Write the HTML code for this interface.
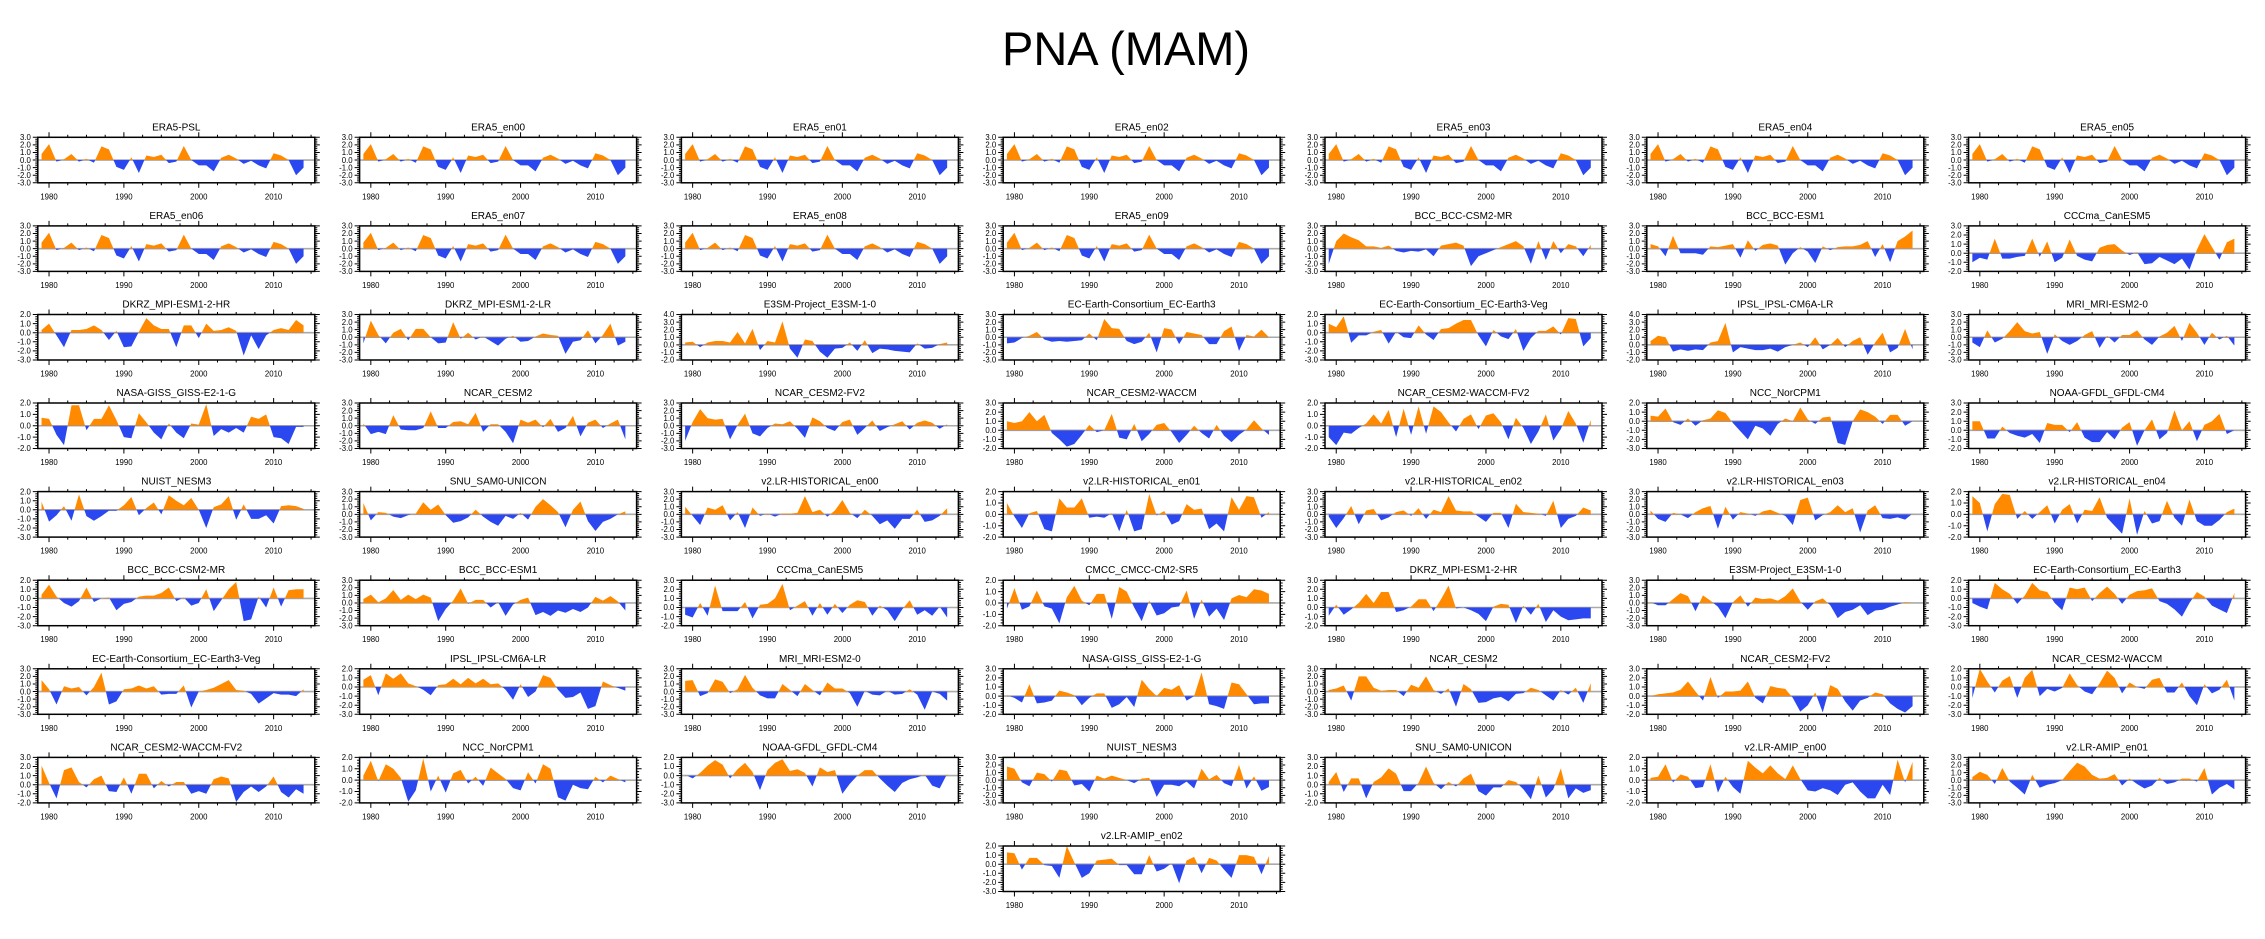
<!DOCTYPE html>
<html><head><meta charset="utf-8"><style>
html,body{margin:0;padding:0;background:#fff}
svg{display:block}
text{font-family:"Liberation Sans",Arial,sans-serif;fill:#000}
.t{font-size:10px;text-anchor:middle}
.xl{font-size:7.8px;text-anchor:middle}
.yl{font-size:7.8px;text-anchor:end}
</style></head><body>
<svg width="2265" height="939" viewBox="0 0 2265 939">
<rect width="2265" height="939" fill="#fff"/>
<text x="1126" y="65" style="font-size:47px;text-anchor:middle">PNA (MAM)</text>

<g class="pn" transform="translate(37.8,137.3)"><text class="t" x="138.5" y="-7">ERA5-PSL</text><g class="xl"><text x="11.2" y="62">1980</text><text x="86.1" y="62">1990</text><text x="161" y="62">2000</text><text x="235.8" y="62">2010</text></g><g class="yl" transform="translate(-7,2.7)"><text>3.0</text><text y="7.58">2.0</text><text y="15.17">1.0</text><text y="22.75">0.0</text><text y="30.33">-1.0</text><text y="37.92">-2.0</text><text y="45.5">-3.0</text></g></g>
<g class="pn" transform="translate(359.6,137.3)"><text class="t" x="138.5" y="-7">ERA5_en00</text><g class="xl"><text x="11.2" y="62">1980</text><text x="86.1" y="62">1990</text><text x="161" y="62">2000</text><text x="235.8" y="62">2010</text></g><g class="yl" transform="translate(-7,2.7)"><text>3.0</text><text y="7.58">2.0</text><text y="15.17">1.0</text><text y="22.75">0.0</text><text y="30.33">-1.0</text><text y="37.92">-2.0</text><text y="45.5">-3.0</text></g></g>
<g class="pn" transform="translate(681.4,137.3)"><text class="t" x="138.5" y="-7">ERA5_en01</text><g class="xl"><text x="11.2" y="62">1980</text><text x="86.1" y="62">1990</text><text x="161" y="62">2000</text><text x="235.8" y="62">2010</text></g><g class="yl" transform="translate(-7,2.7)"><text>3.0</text><text y="7.58">2.0</text><text y="15.17">1.0</text><text y="22.75">0.0</text><text y="30.33">-1.0</text><text y="37.92">-2.0</text><text y="45.5">-3.0</text></g></g>
<g class="pn" transform="translate(1003.2,137.3)"><text class="t" x="138.5" y="-7">ERA5_en02</text><g class="xl"><text x="11.2" y="62">1980</text><text x="86.1" y="62">1990</text><text x="161" y="62">2000</text><text x="235.8" y="62">2010</text></g><g class="yl" transform="translate(-7,2.7)"><text>3.0</text><text y="7.58">2.0</text><text y="15.17">1.0</text><text y="22.75">0.0</text><text y="30.33">-1.0</text><text y="37.92">-2.0</text><text y="45.5">-3.0</text></g></g>
<g class="pn" transform="translate(1325,137.3)"><text class="t" x="138.5" y="-7">ERA5_en03</text><g class="xl"><text x="11.2" y="62">1980</text><text x="86.1" y="62">1990</text><text x="161" y="62">2000</text><text x="235.8" y="62">2010</text></g><g class="yl" transform="translate(-7,2.7)"><text>3.0</text><text y="7.58">2.0</text><text y="15.17">1.0</text><text y="22.75">0.0</text><text y="30.33">-1.0</text><text y="37.92">-2.0</text><text y="45.5">-3.0</text></g></g>
<g class="pn" transform="translate(1646.8,137.3)"><text class="t" x="138.5" y="-7">ERA5_en04</text><g class="xl"><text x="11.2" y="62">1980</text><text x="86.1" y="62">1990</text><text x="161" y="62">2000</text><text x="235.8" y="62">2010</text></g><g class="yl" transform="translate(-7,2.7)"><text>3.0</text><text y="7.58">2.0</text><text y="15.17">1.0</text><text y="22.75">0.0</text><text y="30.33">-1.0</text><text y="37.92">-2.0</text><text y="45.5">-3.0</text></g></g>
<g class="pn" transform="translate(1968.6,137.3)"><text class="t" x="138.5" y="-7">ERA5_en05</text><g class="xl"><text x="11.2" y="62">1980</text><text x="86.1" y="62">1990</text><text x="161" y="62">2000</text><text x="235.8" y="62">2010</text></g><g class="yl" transform="translate(-7,2.7)"><text>3.0</text><text y="7.58">2.0</text><text y="15.17">1.0</text><text y="22.75">0.0</text><text y="30.33">-1.0</text><text y="37.92">-2.0</text><text y="45.5">-3.0</text></g></g>

<g class="pn" transform="translate(37.8,225.9)"><text class="t" x="138.5" y="-7">ERA5_en06</text><g class="xl"><text x="11.2" y="62">1980</text><text x="86.1" y="62">1990</text><text x="161" y="62">2000</text><text x="235.8" y="62">2010</text></g><g class="yl" transform="translate(-7,2.7)"><text>3.0</text><text y="7.58">2.0</text><text y="15.17">1.0</text><text y="22.75">0.0</text><text y="30.33">-1.0</text><text y="37.92">-2.0</text><text y="45.5">-3.0</text></g></g>
<g class="pn" transform="translate(359.6,225.9)"><text class="t" x="138.5" y="-7">ERA5_en07</text><g class="xl"><text x="11.2" y="62">1980</text><text x="86.1" y="62">1990</text><text x="161" y="62">2000</text><text x="235.8" y="62">2010</text></g><g class="yl" transform="translate(-7,2.7)"><text>3.0</text><text y="7.58">2.0</text><text y="15.17">1.0</text><text y="22.75">0.0</text><text y="30.33">-1.0</text><text y="37.92">-2.0</text><text y="45.5">-3.0</text></g></g>
<g class="pn" transform="translate(681.4,225.9)"><text class="t" x="138.5" y="-7">ERA5_en08</text><g class="xl"><text x="11.2" y="62">1980</text><text x="86.1" y="62">1990</text><text x="161" y="62">2000</text><text x="235.8" y="62">2010</text></g><g class="yl" transform="translate(-7,2.7)"><text>3.0</text><text y="7.58">2.0</text><text y="15.17">1.0</text><text y="22.75">0.0</text><text y="30.33">-1.0</text><text y="37.92">-2.0</text><text y="45.5">-3.0</text></g></g>
<g class="pn" transform="translate(1003.2,225.9)"><text class="t" x="138.5" y="-7">ERA5_en09</text><g class="xl"><text x="11.2" y="62">1980</text><text x="86.1" y="62">1990</text><text x="161" y="62">2000</text><text x="235.8" y="62">2010</text></g><g class="yl" transform="translate(-7,2.7)"><text>3.0</text><text y="7.58">2.0</text><text y="15.17">1.0</text><text y="22.75">0.0</text><text y="30.33">-1.0</text><text y="37.92">-2.0</text><text y="45.5">-3.0</text></g></g>
<g class="pn" transform="translate(1325,225.9)"><text class="t" x="138.5" y="-7">BCC_BCC-CSM2-MR</text><g class="xl"><text x="11.2" y="62">1980</text><text x="86.1" y="62">1990</text><text x="161" y="62">2000</text><text x="235.8" y="62">2010</text></g><g class="yl" transform="translate(-7,2.7)"><text>3.0</text><text y="7.58">2.0</text><text y="15.17">1.0</text><text y="22.75">0.0</text><text y="30.33">-1.0</text><text y="37.92">-2.0</text><text y="45.5">-3.0</text></g></g>
<g class="pn" transform="translate(1646.8,225.9)"><text class="t" x="138.5" y="-7">BCC_BCC-ESM1</text><g class="xl"><text x="11.2" y="62">1980</text><text x="86.1" y="62">1990</text><text x="161" y="62">2000</text><text x="235.8" y="62">2010</text></g><g class="yl" transform="translate(-7,2.7)"><text>3.0</text><text y="7.58">2.0</text><text y="15.17">1.0</text><text y="22.75">0.0</text><text y="30.33">-1.0</text><text y="37.92">-2.0</text><text y="45.5">-3.0</text></g></g>
<g class="pn" transform="translate(1968.6,225.9)"><text class="t" x="138.5" y="-7">CCCma_CanESM5</text><g class="xl"><text x="11.2" y="62">1980</text><text x="86.1" y="62">1990</text><text x="161" y="62">2000</text><text x="235.8" y="62">2010</text></g><g class="yl" transform="translate(-7,2.7)"><text>3.0</text><text y="9.1">2.0</text><text y="18.2">1.0</text><text y="27.3">0.0</text><text y="36.4">-1.0</text><text y="45.5">-2.0</text></g></g>

<g class="pn" transform="translate(37.8,314.5)"><text class="t" x="138.5" y="-7">DKRZ_MPI-ESM1-2-HR</text><g class="xl"><text x="11.2" y="62">1980</text><text x="86.1" y="62">1990</text><text x="161" y="62">2000</text><text x="235.8" y="62">2010</text></g><g class="yl" transform="translate(-7,2.7)"><text>2.0</text><text y="9.1">1.0</text><text y="18.2">0.0</text><text y="27.3">-1.0</text><text y="36.4">-2.0</text><text y="45.5">-3.0</text></g></g>
<g class="pn" transform="translate(359.6,314.5)"><text class="t" x="138.5" y="-7">DKRZ_MPI-ESM1-2-LR</text><g class="xl"><text x="11.2" y="62">1980</text><text x="86.1" y="62">1990</text><text x="161" y="62">2000</text><text x="235.8" y="62">2010</text></g><g class="yl" transform="translate(-7,2.7)"><text>3.0</text><text y="7.58">2.0</text><text y="15.17">1.0</text><text y="22.75">0.0</text><text y="30.33">-1.0</text><text y="37.92">-2.0</text><text y="45.5">-3.0</text></g></g>
<g class="pn" transform="translate(681.4,314.5)"><text class="t" x="138.5" y="-7">E3SM-Project_E3SM-1-0</text><g class="xl"><text x="11.2" y="62">1980</text><text x="86.1" y="62">1990</text><text x="161" y="62">2000</text><text x="235.8" y="62">2010</text></g><g class="yl" transform="translate(-7,2.7)"><text>4.0</text><text y="7.58">3.0</text><text y="15.17">2.0</text><text y="22.75">1.0</text><text y="30.33">0.0</text><text y="37.92">-1.0</text><text y="45.5">-2.0</text></g></g>
<g class="pn" transform="translate(1003.2,314.5)"><text class="t" x="138.5" y="-7">EC-Earth-Consortium_EC-Earth3</text><g class="xl"><text x="11.2" y="62">1980</text><text x="86.1" y="62">1990</text><text x="161" y="62">2000</text><text x="235.8" y="62">2010</text></g><g class="yl" transform="translate(-7,2.7)"><text>3.0</text><text y="7.58">2.0</text><text y="15.17">1.0</text><text y="22.75">0.0</text><text y="30.33">-1.0</text><text y="37.92">-2.0</text><text y="45.5">-3.0</text></g></g>
<g class="pn" transform="translate(1325,314.5)"><text class="t" x="138.5" y="-7">EC-Earth-Consortium_EC-Earth3-Veg</text><g class="xl"><text x="11.2" y="62">1980</text><text x="86.1" y="62">1990</text><text x="161" y="62">2000</text><text x="235.8" y="62">2010</text></g><g class="yl" transform="translate(-7,2.7)"><text>2.0</text><text y="9.1">1.0</text><text y="18.2">0.0</text><text y="27.3">-1.0</text><text y="36.4">-2.0</text><text y="45.5">-3.0</text></g></g>
<g class="pn" transform="translate(1646.8,314.5)"><text class="t" x="138.5" y="-7">IPSL_IPSL-CM6A-LR</text><g class="xl"><text x="11.2" y="62">1980</text><text x="86.1" y="62">1990</text><text x="161" y="62">2000</text><text x="235.8" y="62">2010</text></g><g class="yl" transform="translate(-7,2.7)"><text>4.0</text><text y="7.58">3.0</text><text y="15.17">2.0</text><text y="22.75">1.0</text><text y="30.33">0.0</text><text y="37.92">-1.0</text><text y="45.5">-2.0</text></g></g>
<g class="pn" transform="translate(1968.6,314.5)"><text class="t" x="138.5" y="-7">MRI_MRI-ESM2-0</text><g class="xl"><text x="11.2" y="62">1980</text><text x="86.1" y="62">1990</text><text x="161" y="62">2000</text><text x="235.8" y="62">2010</text></g><g class="yl" transform="translate(-7,2.7)"><text>3.0</text><text y="7.58">2.0</text><text y="15.17">1.0</text><text y="22.75">0.0</text><text y="30.33">-1.0</text><text y="37.92">-2.0</text><text y="45.5">-3.0</text></g></g>

<g class="pn" transform="translate(37.8,403)"><text class="t" x="138.5" y="-7">NASA-GISS_GISS-E2-1-G</text><g class="xl"><text x="11.2" y="62">1980</text><text x="86.1" y="62">1990</text><text x="161" y="62">2000</text><text x="235.8" y="62">2010</text></g><g class="yl" transform="translate(-7,2.7)"><text>2.0</text><text y="11.38">1.0</text><text y="22.75">0.0</text><text y="34.13">-1.0</text><text y="45.5">-2.0</text></g></g>
<g class="pn" transform="translate(359.6,403)"><text class="t" x="138.5" y="-7">NCAR_CESM2</text><g class="xl"><text x="11.2" y="62">1980</text><text x="86.1" y="62">1990</text><text x="161" y="62">2000</text><text x="235.8" y="62">2010</text></g><g class="yl" transform="translate(-7,2.7)"><text>3.0</text><text y="7.58">2.0</text><text y="15.17">1.0</text><text y="22.75">0.0</text><text y="30.33">-1.0</text><text y="37.92">-2.0</text><text y="45.5">-3.0</text></g></g>
<g class="pn" transform="translate(681.4,403)"><text class="t" x="138.5" y="-7">NCAR_CESM2-FV2</text><g class="xl"><text x="11.2" y="62">1980</text><text x="86.1" y="62">1990</text><text x="161" y="62">2000</text><text x="235.8" y="62">2010</text></g><g class="yl" transform="translate(-7,2.7)"><text>3.0</text><text y="7.58">2.0</text><text y="15.17">1.0</text><text y="22.75">0.0</text><text y="30.33">-1.0</text><text y="37.92">-2.0</text><text y="45.5">-3.0</text></g></g>
<g class="pn" transform="translate(1003.2,403)"><text class="t" x="138.5" y="-7">NCAR_CESM2-WACCM</text><g class="xl"><text x="11.2" y="62">1980</text><text x="86.1" y="62">1990</text><text x="161" y="62">2000</text><text x="235.8" y="62">2010</text></g><g class="yl" transform="translate(-7,2.7)"><text>3.0</text><text y="9.1">2.0</text><text y="18.2">1.0</text><text y="27.3">0.0</text><text y="36.4">-1.0</text><text y="45.5">-2.0</text></g></g>
<g class="pn" transform="translate(1325,403)"><text class="t" x="138.5" y="-7">NCAR_CESM2-WACCM-FV2</text><g class="xl"><text x="11.2" y="62">1980</text><text x="86.1" y="62">1990</text><text x="161" y="62">2000</text><text x="235.8" y="62">2010</text></g><g class="yl" transform="translate(-7,2.7)"><text>2.0</text><text y="11.38">1.0</text><text y="22.75">0.0</text><text y="34.13">-1.0</text><text y="45.5">-2.0</text></g></g>
<g class="pn" transform="translate(1646.8,403)"><text class="t" x="138.5" y="-7">NCC_NorCPM1</text><g class="xl"><text x="11.2" y="62">1980</text><text x="86.1" y="62">1990</text><text x="161" y="62">2000</text><text x="235.8" y="62">2010</text></g><g class="yl" transform="translate(-7,2.7)"><text>2.0</text><text y="9.1">1.0</text><text y="18.2">0.0</text><text y="27.3">-1.0</text><text y="36.4">-2.0</text><text y="45.5">-3.0</text></g></g>
<g class="pn" transform="translate(1968.6,403)"><text class="t" x="138.5" y="-7">NOAA-GFDL_GFDL-CM4</text><g class="xl"><text x="11.2" y="62">1980</text><text x="86.1" y="62">1990</text><text x="161" y="62">2000</text><text x="235.8" y="62">2010</text></g><g class="yl" transform="translate(-7,2.7)"><text>3.0</text><text y="9.1">2.0</text><text y="18.2">1.0</text><text y="27.3">0.0</text><text y="36.4">-1.0</text><text y="45.5">-2.0</text></g></g>

<g class="pn" transform="translate(37.8,491.6)"><text class="t" x="138.5" y="-7">NUIST_NESM3</text><g class="xl"><text x="11.2" y="62">1980</text><text x="86.1" y="62">1990</text><text x="161" y="62">2000</text><text x="235.8" y="62">2010</text></g><g class="yl" transform="translate(-7,2.7)"><text>2.0</text><text y="9.1">1.0</text><text y="18.2">0.0</text><text y="27.3">-1.0</text><text y="36.4">-2.0</text><text y="45.5">-3.0</text></g></g>
<g class="pn" transform="translate(359.6,491.6)"><text class="t" x="138.5" y="-7">SNU_SAM0-UNICON</text><g class="xl"><text x="11.2" y="62">1980</text><text x="86.1" y="62">1990</text><text x="161" y="62">2000</text><text x="235.8" y="62">2010</text></g><g class="yl" transform="translate(-7,2.7)"><text>3.0</text><text y="7.58">2.0</text><text y="15.17">1.0</text><text y="22.75">0.0</text><text y="30.33">-1.0</text><text y="37.92">-2.0</text><text y="45.5">-3.0</text></g></g>
<g class="pn" transform="translate(681.4,491.6)"><text class="t" x="138.5" y="-7">v2.LR-HISTORICAL_en00</text><g class="xl"><text x="11.2" y="62">1980</text><text x="86.1" y="62">1990</text><text x="161" y="62">2000</text><text x="235.8" y="62">2010</text></g><g class="yl" transform="translate(-7,2.7)"><text>3.0</text><text y="7.58">2.0</text><text y="15.17">1.0</text><text y="22.75">0.0</text><text y="30.33">-1.0</text><text y="37.92">-2.0</text><text y="45.5">-3.0</text></g></g>
<g class="pn" transform="translate(1003.2,491.6)"><text class="t" x="138.5" y="-7">v2.LR-HISTORICAL_en01</text><g class="xl"><text x="11.2" y="62">1980</text><text x="86.1" y="62">1990</text><text x="161" y="62">2000</text><text x="235.8" y="62">2010</text></g><g class="yl" transform="translate(-7,2.7)"><text>2.0</text><text y="11.38">1.0</text><text y="22.75">0.0</text><text y="34.13">-1.0</text><text y="45.5">-2.0</text></g></g>
<g class="pn" transform="translate(1325,491.6)"><text class="t" x="138.5" y="-7">v2.LR-HISTORICAL_en02</text><g class="xl"><text x="11.2" y="62">1980</text><text x="86.1" y="62">1990</text><text x="161" y="62">2000</text><text x="235.8" y="62">2010</text></g><g class="yl" transform="translate(-7,2.7)"><text>3.0</text><text y="7.58">2.0</text><text y="15.17">1.0</text><text y="22.75">0.0</text><text y="30.33">-1.0</text><text y="37.92">-2.0</text><text y="45.5">-3.0</text></g></g>
<g class="pn" transform="translate(1646.8,491.6)"><text class="t" x="138.5" y="-7">v2.LR-HISTORICAL_en03</text><g class="xl"><text x="11.2" y="62">1980</text><text x="86.1" y="62">1990</text><text x="161" y="62">2000</text><text x="235.8" y="62">2010</text></g><g class="yl" transform="translate(-7,2.7)"><text>3.0</text><text y="7.58">2.0</text><text y="15.17">1.0</text><text y="22.75">0.0</text><text y="30.33">-1.0</text><text y="37.92">-2.0</text><text y="45.5">-3.0</text></g></g>
<g class="pn" transform="translate(1968.6,491.6)"><text class="t" x="138.5" y="-7">v2.LR-HISTORICAL_en04</text><g class="xl"><text x="11.2" y="62">1980</text><text x="86.1" y="62">1990</text><text x="161" y="62">2000</text><text x="235.8" y="62">2010</text></g><g class="yl" transform="translate(-7,2.7)"><text>2.0</text><text y="11.38">1.0</text><text y="22.75">0.0</text><text y="34.13">-1.0</text><text y="45.5">-2.0</text></g></g>

<g class="pn" transform="translate(37.8,580.2)"><text class="t" x="138.5" y="-7">BCC_BCC-CSM2-MR</text><g class="xl"><text x="11.2" y="62">1980</text><text x="86.1" y="62">1990</text><text x="161" y="62">2000</text><text x="235.8" y="62">2010</text></g><g class="yl" transform="translate(-7,2.7)"><text>2.0</text><text y="9.1">1.0</text><text y="18.2">0.0</text><text y="27.3">-1.0</text><text y="36.4">-2.0</text><text y="45.5">-3.0</text></g></g>
<g class="pn" transform="translate(359.6,580.2)"><text class="t" x="138.5" y="-7">BCC_BCC-ESM1</text><g class="xl"><text x="11.2" y="62">1980</text><text x="86.1" y="62">1990</text><text x="161" y="62">2000</text><text x="235.8" y="62">2010</text></g><g class="yl" transform="translate(-7,2.7)"><text>3.0</text><text y="7.58">2.0</text><text y="15.17">1.0</text><text y="22.75">0.0</text><text y="30.33">-1.0</text><text y="37.92">-2.0</text><text y="45.5">-3.0</text></g></g>
<g class="pn" transform="translate(681.4,580.2)"><text class="t" x="138.5" y="-7">CCCma_CanESM5</text><g class="xl"><text x="11.2" y="62">1980</text><text x="86.1" y="62">1990</text><text x="161" y="62">2000</text><text x="235.8" y="62">2010</text></g><g class="yl" transform="translate(-7,2.7)"><text>3.0</text><text y="9.1">2.0</text><text y="18.2">1.0</text><text y="27.3">0.0</text><text y="36.4">-1.0</text><text y="45.5">-2.0</text></g></g>
<g class="pn" transform="translate(1003.2,580.2)"><text class="t" x="138.5" y="-7">CMCC_CMCC-CM2-SR5</text><g class="xl"><text x="11.2" y="62">1980</text><text x="86.1" y="62">1990</text><text x="161" y="62">2000</text><text x="235.8" y="62">2010</text></g><g class="yl" transform="translate(-7,2.7)"><text>2.0</text><text y="11.38">1.0</text><text y="22.75">0.0</text><text y="34.13">-1.0</text><text y="45.5">-2.0</text></g></g>
<g class="pn" transform="translate(1325,580.2)"><text class="t" x="138.5" y="-7">DKRZ_MPI-ESM1-2-HR</text><g class="xl"><text x="11.2" y="62">1980</text><text x="86.1" y="62">1990</text><text x="161" y="62">2000</text><text x="235.8" y="62">2010</text></g><g class="yl" transform="translate(-7,2.7)"><text>3.0</text><text y="9.1">2.0</text><text y="18.2">1.0</text><text y="27.3">0.0</text><text y="36.4">-1.0</text><text y="45.5">-2.0</text></g></g>
<g class="pn" transform="translate(1646.8,580.2)"><text class="t" x="138.5" y="-7">E3SM-Project_E3SM-1-0</text><g class="xl"><text x="11.2" y="62">1980</text><text x="86.1" y="62">1990</text><text x="161" y="62">2000</text><text x="235.8" y="62">2010</text></g><g class="yl" transform="translate(-7,2.7)"><text>3.0</text><text y="7.58">2.0</text><text y="15.17">1.0</text><text y="22.75">0.0</text><text y="30.33">-1.0</text><text y="37.92">-2.0</text><text y="45.5">-3.0</text></g></g>
<g class="pn" transform="translate(1968.6,580.2)"><text class="t" x="138.5" y="-7">EC-Earth-Consortium_EC-Earth3</text><g class="xl"><text x="11.2" y="62">1980</text><text x="86.1" y="62">1990</text><text x="161" y="62">2000</text><text x="235.8" y="62">2010</text></g><g class="yl" transform="translate(-7,2.7)"><text>2.0</text><text y="9.1">1.0</text><text y="18.2">0.0</text><text y="27.3">-1.0</text><text y="36.4">-2.0</text><text y="45.5">-3.0</text></g></g>

<g class="pn" transform="translate(37.8,668.8)"><text class="t" x="138.5" y="-7">EC-Earth-Consortium_EC-Earth3-Veg</text><g class="xl"><text x="11.2" y="62">1980</text><text x="86.1" y="62">1990</text><text x="161" y="62">2000</text><text x="235.8" y="62">2010</text></g><g class="yl" transform="translate(-7,2.7)"><text>3.0</text><text y="7.58">2.0</text><text y="15.17">1.0</text><text y="22.75">0.0</text><text y="30.33">-1.0</text><text y="37.92">-2.0</text><text y="45.5">-3.0</text></g></g>
<g class="pn" transform="translate(359.6,668.8)"><text class="t" x="138.5" y="-7">IPSL_IPSL-CM6A-LR</text><g class="xl"><text x="11.2" y="62">1980</text><text x="86.1" y="62">1990</text><text x="161" y="62">2000</text><text x="235.8" y="62">2010</text></g><g class="yl" transform="translate(-7,2.7)"><text>2.0</text><text y="9.1">1.0</text><text y="18.2">0.0</text><text y="27.3">-1.0</text><text y="36.4">-2.0</text><text y="45.5">-3.0</text></g></g>
<g class="pn" transform="translate(681.4,668.8)"><text class="t" x="138.5" y="-7">MRI_MRI-ESM2-0</text><g class="xl"><text x="11.2" y="62">1980</text><text x="86.1" y="62">1990</text><text x="161" y="62">2000</text><text x="235.8" y="62">2010</text></g><g class="yl" transform="translate(-7,2.7)"><text>3.0</text><text y="7.58">2.0</text><text y="15.17">1.0</text><text y="22.75">0.0</text><text y="30.33">-1.0</text><text y="37.92">-2.0</text><text y="45.5">-3.0</text></g></g>
<g class="pn" transform="translate(1003.2,668.8)"><text class="t" x="138.5" y="-7">NASA-GISS_GISS-E2-1-G</text><g class="xl"><text x="11.2" y="62">1980</text><text x="86.1" y="62">1990</text><text x="161" y="62">2000</text><text x="235.8" y="62">2010</text></g><g class="yl" transform="translate(-7,2.7)"><text>3.0</text><text y="9.1">2.0</text><text y="18.2">1.0</text><text y="27.3">0.0</text><text y="36.4">-1.0</text><text y="45.5">-2.0</text></g></g>
<g class="pn" transform="translate(1325,668.8)"><text class="t" x="138.5" y="-7">NCAR_CESM2</text><g class="xl"><text x="11.2" y="62">1980</text><text x="86.1" y="62">1990</text><text x="161" y="62">2000</text><text x="235.8" y="62">2010</text></g><g class="yl" transform="translate(-7,2.7)"><text>3.0</text><text y="7.58">2.0</text><text y="15.17">1.0</text><text y="22.75">0.0</text><text y="30.33">-1.0</text><text y="37.92">-2.0</text><text y="45.5">-3.0</text></g></g>
<g class="pn" transform="translate(1646.8,668.8)"><text class="t" x="138.5" y="-7">NCAR_CESM2-FV2</text><g class="xl"><text x="11.2" y="62">1980</text><text x="86.1" y="62">1990</text><text x="161" y="62">2000</text><text x="235.8" y="62">2010</text></g><g class="yl" transform="translate(-7,2.7)"><text>3.0</text><text y="9.1">2.0</text><text y="18.2">1.0</text><text y="27.3">0.0</text><text y="36.4">-1.0</text><text y="45.5">-2.0</text></g></g>
<g class="pn" transform="translate(1968.6,668.8)"><text class="t" x="138.5" y="-7">NCAR_CESM2-WACCM</text><g class="xl"><text x="11.2" y="62">1980</text><text x="86.1" y="62">1990</text><text x="161" y="62">2000</text><text x="235.8" y="62">2010</text></g><g class="yl" transform="translate(-7,2.7)"><text>2.0</text><text y="9.1">1.0</text><text y="18.2">0.0</text><text y="27.3">-1.0</text><text y="36.4">-2.0</text><text y="45.5">-3.0</text></g></g>

<g class="pn" transform="translate(37.8,757.4)"><text class="t" x="138.5" y="-7">NCAR_CESM2-WACCM-FV2</text><g class="xl"><text x="11.2" y="62">1980</text><text x="86.1" y="62">1990</text><text x="161" y="62">2000</text><text x="235.8" y="62">2010</text></g><g class="yl" transform="translate(-7,2.7)"><text>3.0</text><text y="9.1">2.0</text><text y="18.2">1.0</text><text y="27.3">0.0</text><text y="36.4">-1.0</text><text y="45.5">-2.0</text></g></g>
<g class="pn" transform="translate(359.6,757.4)"><text class="t" x="138.5" y="-7">NCC_NorCPM1</text><g class="xl"><text x="11.2" y="62">1980</text><text x="86.1" y="62">1990</text><text x="161" y="62">2000</text><text x="235.8" y="62">2010</text></g><g class="yl" transform="translate(-7,2.7)"><text>2.0</text><text y="11.38">1.0</text><text y="22.75">0.0</text><text y="34.13">-1.0</text><text y="45.5">-2.0</text></g></g>
<g class="pn" transform="translate(681.4,757.4)"><text class="t" x="138.5" y="-7">NOAA-GFDL_GFDL-CM4</text><g class="xl"><text x="11.2" y="62">1980</text><text x="86.1" y="62">1990</text><text x="161" y="62">2000</text><text x="235.8" y="62">2010</text></g><g class="yl" transform="translate(-7,2.7)"><text>2.0</text><text y="9.1">1.0</text><text y="18.2">0.0</text><text y="27.3">-1.0</text><text y="36.4">-2.0</text><text y="45.5">-3.0</text></g></g>
<g class="pn" transform="translate(1003.2,757.4)"><text class="t" x="138.5" y="-7">NUIST_NESM3</text><g class="xl"><text x="11.2" y="62">1980</text><text x="86.1" y="62">1990</text><text x="161" y="62">2000</text><text x="235.8" y="62">2010</text></g><g class="yl" transform="translate(-7,2.7)"><text>3.0</text><text y="7.58">2.0</text><text y="15.17">1.0</text><text y="22.75">0.0</text><text y="30.33">-1.0</text><text y="37.92">-2.0</text><text y="45.5">-3.0</text></g></g>
<g class="pn" transform="translate(1325,757.4)"><text class="t" x="138.5" y="-7">SNU_SAM0-UNICON</text><g class="xl"><text x="11.2" y="62">1980</text><text x="86.1" y="62">1990</text><text x="161" y="62">2000</text><text x="235.8" y="62">2010</text></g><g class="yl" transform="translate(-7,2.7)"><text>3.0</text><text y="9.1">2.0</text><text y="18.2">1.0</text><text y="27.3">0.0</text><text y="36.4">-1.0</text><text y="45.5">-2.0</text></g></g>
<g class="pn" transform="translate(1646.8,757.4)"><text class="t" x="138.5" y="-7">v2.LR-AMIP_en00</text><g class="xl"><text x="11.2" y="62">1980</text><text x="86.1" y="62">1990</text><text x="161" y="62">2000</text><text x="235.8" y="62">2010</text></g><g class="yl" transform="translate(-7,2.7)"><text>2.0</text><text y="11.38">1.0</text><text y="22.75">0.0</text><text y="34.13">-1.0</text><text y="45.5">-2.0</text></g></g>
<g class="pn" transform="translate(1968.6,757.4)"><text class="t" x="138.5" y="-7">v2.LR-AMIP_en01</text><g class="xl"><text x="11.2" y="62">1980</text><text x="86.1" y="62">1990</text><text x="161" y="62">2000</text><text x="235.8" y="62">2010</text></g><g class="yl" transform="translate(-7,2.7)"><text>3.0</text><text y="7.58">2.0</text><text y="15.17">1.0</text><text y="22.75">0.0</text><text y="30.33">-1.0</text><text y="37.92">-2.0</text><text y="45.5">-3.0</text></g></g>

<g class="pn" transform="translate(1003.2,846)"><text class="t" x="138.5" y="-7">v2.LR-AMIP_en02</text><g class="xl"><text x="11.2" y="62">1980</text><text x="86.1" y="62">1990</text><text x="161" y="62">2000</text><text x="235.8" y="62">2010</text></g><g class="yl" transform="translate(-7,2.7)"><text>2.0</text><text y="9.1">1.0</text><text y="18.2">0.0</text><text y="27.3">-1.0</text><text y="36.4">-2.0</text><text y="45.5">-3.0</text></g></g>
</svg>
<script>
(function(){
var E=[0.8,2.1,-0.2,0.1,0.8,-0.2,0.15,-0.35,1.8,1.4,-0.9,-1.3,0.35,-1.7,0.6,0.4,0.7,-0.4,-0.2,1.85,0.0,-0.7,-0.7,-1.5,0.3,0.7,0.2,-0.5,-0.1,-0.7,-1.1,0.9,0.6,0.0,-2.0,-1.0];
var BCCa=[-2.0,1.0,2.0,1.5,1.1,0.3,0.3,0.1,0.4,-0.3,-0.5,-0.3,-0.4,-0.1,-1.0,0.4,0.6,0.8,0.4,-2.3,-1.0,-0.6,-0.2,0.2,0.6,1.0,0.3,-2.0,1.0,-1.5,1.0,-0.6,0.6,0.3,-1.0,0.5];
var BESa=[0.6,0.3,-1.0,1.7,-0.6,-0.6,-0.6,-0.8,0.3,0.2,0.4,0.6,-1.2,1.1,-0.3,0.5,0.7,0.4,-2.1,-0.6,0.2,-0.4,-1.9,0.3,-0.2,0.2,0.3,0.3,0.5,1.0,-1.1,0.6,-1.8,1.0,1.6,2.4];
var CANa=[-1.0,-0.5,-0.7,1.6,-0.6,-0.6,-0.4,-0.3,1.6,-0.4,1.3,-1.0,-0.5,1.5,-0.3,-0.7,-0.9,0.6,0.9,1.0,0.3,-0.2,0.1,-1.2,-1.1,-0.4,-0.8,-1.2,-0.6,-1.8,0.4,2.1,0.7,-0.7,1.2,1.6];
var DHRa=[0.3,1.0,-0.3,-1.6,0.3,0.3,0.4,0.8,0.3,-0.8,0.2,-1.6,-1.5,0.1,1.6,0.8,0.4,0.4,-1.6,0.8,0.8,-0.6,1.0,0.2,0.3,0.6,0.2,-2.5,-0.3,-1.8,-0.3,0.3,0.5,0.3,1.4,0.8];
var DLR=[-0.8,2.2,0.3,-0.8,0.6,1.1,-0.4,1.1,1.1,0.0,-0.8,-0.7,2.0,-0.2,0.6,-0.3,0.1,-0.5,-1.1,-0.2,0.2,-0.6,-0.5,0.1,0.5,0.3,0.2,-2.2,-0.6,-0.4,0.9,-0.8,0.3,1.8,-1.1,-0.6];
var E3a=[0.3,0.4,-0.3,0.3,0.5,0.5,0.3,1.7,0.2,2.1,-0.7,0.5,0.3,3.1,-0.5,-1.7,0.7,0.5,-0.9,-1.7,-0.5,-0.4,0.3,-0.8,0.6,-1.1,-0.5,-0.6,-0.8,-0.9,-1.0,0.2,-0.5,-0.4,0.1,0.3];
var EC3a=[-0.8,-0.7,-0.1,0.2,0.7,-0.3,-0.6,-0.5,-0.6,-0.5,-0.4,0.5,-0.4,2.4,1.2,1.1,-0.5,-0.9,-0.6,0.6,-2.0,1.2,1.0,-0.9,0.7,0.5,0.3,-0.9,-0.9,0.8,1.4,-1.8,0.3,0.1,1.0,0.0];
var ECVa=[1.0,0.6,1.8,-1.1,-0.3,-0.3,0.1,0.3,-1.2,0.1,-0.5,-0.6,0.8,-0.2,-0.8,0.4,0.5,1.0,1.4,1.4,-0.3,-1.5,0.3,-0.4,-0.7,0.4,-2.0,-0.6,0.2,0.2,0.7,-0.2,1.6,1.5,-1.5,-0.6];
var IPa=[0.5,1.2,1.0,-0.9,-0.6,-0.8,-0.6,-0.7,0.3,0.5,2.9,-1.0,-0.3,-0.5,-0.7,-0.7,-0.5,-0.9,-0.3,0.0,0.3,-0.3,1.0,-0.6,0.0,0.9,-0.3,0.5,1.0,-1.3,0.3,1.6,-1.0,-0.4,2.1,-0.6];
var MRa=[-0.7,-1.3,0.9,-0.7,-0.2,0.8,2.0,0.8,0.5,0.7,-2.2,0.4,-0.5,-1.0,-0.5,0.3,0.8,-1.4,0.2,-0.7,0.3,0.3,0.9,-0.3,-1.0,0.1,0.6,1.5,-0.5,1.9,0.6,-1.0,0.6,-0.3,0.2,-1.1];
var NASa=[0.7,0.6,-0.8,-1.7,1.8,1.8,-0.4,0.6,0.6,1.8,0.5,-1.0,-1.1,1.1,0.3,-0.6,-1.2,0.2,-0.6,-1.1,0.2,0.1,1.9,-0.9,-0.3,-0.6,-0.2,-0.6,0.8,0.6,1.0,-1.0,-1.1,-1.6,-0.1,-0.1];
var CE2a=[0.3,-1.1,-0.8,-1.1,1.4,-0.5,-0.6,-0.6,-0.3,1.9,-0.3,-0.3,0.5,0.6,0.2,1.7,-0.8,0.2,0.2,-0.8,-2.3,0.8,0.4,0.8,-0.2,0.9,-0.8,-0.3,1.3,-1.4,0.4,0.8,-0.3,0.3,0.8,-1.8];
var CFVa=[-2.0,0.5,2.2,1.0,0.8,0.9,-1.8,0.1,1.6,-1.0,-1.4,-0.3,0.3,0.2,0.6,-0.4,-1.6,1.1,0.6,-0.3,-0.7,0.5,0.8,-1.2,-0.3,0.7,-0.7,-0.2,0.2,0.6,-0.5,0.4,0.7,0.4,-0.4,0.2];
var WAa=[1.0,0.8,1.0,2.0,1.0,1.7,-0.3,-1.0,-1.8,-1.5,-0.5,0.6,-0.2,0.0,1.8,-0.8,-1.0,0.7,-1.2,-0.4,0.6,0.8,-0.2,-1.4,-0.5,0.5,-0.3,-0.9,0.6,-0.6,-1.3,-0.5,0.1,1.1,0.2,-0.5];
var WFVa=[-1.0,-1.7,-0.6,-0.7,-0.2,0.2,1.0,0.2,1.4,-1.0,1.5,-0.8,1.7,-0.7,1.7,1.2,0.3,-0.5,0.6,1.0,-0.3,0.9,1.1,0.3,-1.2,0.7,-0.2,-1.6,-0.5,1.0,-1.3,-0.3,1.3,0.2,-1.5,0.5];
var NORa=[0.6,0.5,1.4,-0.1,-0.4,0.3,-0.5,0.1,0.3,1.2,0.9,-0.2,-1.1,-2.0,-0.5,-0.8,-1.6,-0.3,0.3,0.0,1.5,0.2,-0.3,0.4,0.5,-2.4,-2.6,0.0,1.3,1.0,0.5,-0.3,0.7,0.7,-0.5,0.0];
var GFa=[1.0,1.0,-0.9,-0.9,0.4,-0.3,-0.6,-0.8,-0.4,-1.4,0.8,0.6,0.6,-0.2,0.9,-0.8,-1.3,-1.3,-0.2,-1.0,0.3,0.9,-1.7,0.0,1.2,-1.0,-0.3,2.2,0.0,1.0,-1.2,0.6,1.0,1.8,-0.4,0.0];
var NUa=[0.9,-1.3,-0.6,0.4,-1.2,1.7,-0.7,-1.2,-0.7,-0.1,-0.1,0.5,1.4,-0.6,0.2,0.8,-0.5,1.6,1.0,0.5,1.3,0.0,-2.0,0.3,0.6,1.5,-1.1,0.6,-1.0,-1.0,-0.6,-1.5,0.4,0.5,0.4,0.1];
var SNa=[1.5,-0.8,0.3,0.2,-0.3,-0.5,-0.1,0.1,1.6,0.6,1.3,-0.1,-1.1,-0.9,-0.4,0.6,-0.3,-1.0,-1.5,-0.2,-0.6,0.2,-0.7,1.0,2.0,1.2,0.3,-1.7,0.6,1.7,-0.9,-2.2,-1.0,-0.6,0.0,0.4];
var H00=[1.0,-0.2,-1.4,0.9,0.6,1.2,-0.8,0.3,-1.8,0.9,-0.2,0.1,-0.3,0.1,0.1,0.2,2.4,0.3,0.6,-0.3,0.5,1.9,0.2,-0.5,0.6,-0.2,-1.3,-0.8,-1.9,-0.6,-0.6,0.6,-1.0,-0.8,-0.2,0.8];
var H01=[1.0,-0.2,-1.2,0.1,0.3,-1.3,-1.5,1.4,0.6,0.6,1.4,-0.3,-0.2,-0.3,0.1,-1.5,0.4,-1.5,-1.3,1.8,-0.1,0.3,-0.9,-0.6,0.9,0.4,0.5,-1.3,-0.8,-1.5,1.5,0.4,1.6,1.5,-0.3,0.2];
var H02=[-0.3,-1.8,-0.5,1.1,-1.3,0.5,0.7,-0.8,-0.4,0.3,0.5,-0.2,0.8,-0.6,0.6,0.3,2.4,0.5,0.4,0.4,-0.3,-1.0,0.2,0.2,-1.8,1.4,0.3,0.2,0.1,-0.2,1.8,-1.8,-0.6,-0.2,0.9,0.5];
var H03=[0.5,-0.6,-1.0,0.2,0.0,-0.5,0.3,0.8,1.1,-1.9,1.0,-0.7,0.3,0.1,-0.2,0.4,0.6,0.2,-0.2,-1.4,1.9,2.2,-0.8,-0.1,0.3,1.2,0.3,0.8,-2.4,0.5,1.2,-0.5,-0.6,-0.4,-0.7,0.1];
var H04=[1.6,1.0,-1.5,0.9,1.8,1.7,-0.4,0.3,-0.4,0.2,0.8,-0.8,0.4,0.9,-0.8,0.4,0.3,1.5,-0.3,-1.0,-1.7,1.4,-1.8,0.3,-0.8,-0.6,1.2,-0.3,-1.0,1.3,-0.6,-1.0,-1.0,-0.5,0.2,0.5];
var BCCb=[0.4,1.5,0.2,-0.5,-0.9,-0.3,1.2,-0.4,0.0,0.1,-1.3,-0.6,-0.4,0.2,0.3,0.3,0.6,1.2,-0.3,0.1,-0.8,-0.5,1.0,-1.4,-0.2,1.0,1.8,-2.5,-2.3,0.2,-1.0,1.2,-0.9,0.9,1.0,1.0];
var BESb=[0.5,1.1,0.1,0.6,1.7,0.4,1.1,0.5,1.1,0.7,-2.4,-0.8,0.3,1.9,-0.1,0.4,0.4,-0.6,0.1,-1.7,-0.2,0.4,0.7,-1.6,-1.2,-1.7,-1.0,-1.3,-0.8,-1.2,-0.6,0.8,0.3,0.9,0.2,-1.0];
var CANb=[-0.8,-1.1,0.5,-0.9,2.4,-0.4,-0.4,-0.4,0.6,-1.2,0.3,0.4,1.0,2.6,-0.3,0.2,0.7,-0.9,0.5,-0.8,0.4,-0.6,0.3,0.8,0.6,-0.9,0.2,-0.3,-1.5,-0.2,0.8,-0.8,-0.3,-0.9,0.1,-1.1];
var CMCC=[-0.5,1.3,-0.6,-0.3,1.1,-0.3,-0.5,-1.8,0.5,1.5,0.2,-0.2,0.8,0.8,-1.4,1.4,1.0,-0.4,-1.6,0.2,-1.1,-0.9,-0.4,-0.3,1.1,-1.4,0.3,-1.2,-0.5,-1.5,0.4,0.7,0.5,1.2,1.1,0.8];
var DHRb=[-0.9,0.3,-0.8,-0.2,0.5,1.5,0.5,1.7,1.7,-0.5,-0.3,0.1,0.9,0.9,-0.4,0.9,2.4,-0.1,0.0,-0.3,-0.7,-1.5,0.1,0.4,0.3,-1.7,0.2,-0.8,0.4,-1.6,-0.3,-1.0,-1.4,-1.3,-1.2,-1.2];
var E3b=[0.1,-0.3,-0.3,0.5,1.3,0.9,-1.1,1.0,0.3,-0.5,-2.0,0.1,1.0,-0.5,0.7,0.5,0.6,0.3,0.9,1.9,0.2,-0.9,0.2,0.6,-0.3,-2.0,-1.2,-0.9,-0.3,-1.6,-1.0,-0.9,-0.5,-0.2,0.1,0.0];
var EC3b=[-0.5,-0.9,-1.2,1.7,1.0,0.5,-0.6,0.3,1.7,0.9,0.7,-0.5,-1.3,1.2,1.0,1.2,-0.3,0.6,1.3,0.5,-0.6,0.4,0.8,0.9,1.1,-0.3,-0.6,-1.2,-2.0,-0.5,0.7,0.2,-0.8,-1.2,-1.6,0.6];
var ECVb=[1.5,0.3,-1.7,0.7,0.4,0.6,-0.5,0.6,2.5,-1.7,-1.3,0.3,0.4,0.8,0.4,0.7,-0.4,-0.3,-0.3,0.8,-2.1,0.0,0.2,0.5,1.0,1.5,0.2,0.1,-0.3,-1.6,-0.9,-0.2,-0.4,-0.4,-0.6,0.3];
var IPb=[0.8,1.3,-0.9,1.5,0.9,1.5,0.4,0.1,-0.3,-0.9,0.2,0.3,0.9,0.3,1.0,0.4,0.9,0.3,0.4,-0.3,-1.4,0.3,-1.1,-0.5,1.3,1.0,-0.3,-1.2,-1.1,-0.6,-2.4,-2.1,0.6,0.2,-0.1,-0.4];
var MRb=[1.4,1.5,-0.6,-0.2,1.6,1.3,-0.2,0.3,2.2,0.5,-0.5,-0.9,-0.9,1.0,0.2,-0.6,1.0,0.2,-0.5,1.2,0.4,0.4,-0.2,-2.0,0.1,-0.4,-0.5,0.1,-0.4,-0.3,0.3,-0.4,-2.4,0.0,-0.3,-1.2];
var NASb=[0.1,-0.2,-0.7,1.3,-0.8,-0.7,-0.5,0.6,0.4,0.1,-1.0,-0.2,0.3,0.3,-1.3,-0.9,-0.1,-1.2,1.8,0.8,0.0,0.9,0.7,1.2,-0.5,0.0,2.6,-0.9,-1.1,-1.4,1.5,1.3,0.2,-0.9,-0.8,-0.8];
var CE2b=[0.2,0.4,0.8,-1.2,2.0,2.0,0.5,0.1,0.2,0.2,-0.6,0.9,0.5,2.0,0.2,-0.3,0.4,-2.0,1.0,0.3,-1.5,-1.4,-0.9,-0.7,-1.3,-0.3,-0.2,0.5,0.2,-0.5,-1.2,0.2,-0.4,0.5,-1.5,1.1];
var CFVb=[0.0,0.2,0.3,0.4,0.7,1.6,0.5,-0.5,2.1,-0.2,0.5,0.5,0.6,1.6,-0.2,-0.8,1.1,0.9,0.8,-0.2,-1.7,-1.0,0.4,-1.8,1.2,0.8,-0.6,-1.6,-0.5,-0.2,0.4,0.2,-0.8,-1.4,-1.8,-1.1];
var WAb=[-1.2,2.0,0.6,-0.6,0.7,1.2,-1.2,1.0,1.9,-1.0,-0.2,-0.5,-0.1,1.5,0.2,-0.5,-0.8,0.4,1.8,1.0,-0.7,0.5,0.0,-0.2,0.8,1.0,-0.6,-0.6,0.5,-1.0,-2.0,0.3,-0.7,-0.3,0.8,-1.5];
var WFVb=[2.1,0.2,-1.5,1.6,1.9,0.3,-0.3,0.6,1.0,-0.7,-0.8,0.8,-1.0,1.2,1.2,-0.4,0.4,-0.2,0.3,0.3,-1.0,-0.7,-1.0,0.6,0.9,0.7,-1.9,-0.8,-0.2,-0.8,-0.2,0.9,-0.8,-1.4,-0.5,-1.0];
var NORb=[0.4,1.7,-0.1,1.4,1.0,0.2,-1.9,-0.9,1.9,-1.0,0.4,-1.1,0.6,0.9,-0.3,0.3,-0.5,1.1,0.6,0.1,-0.7,-0.9,0.7,-0.3,1.4,1.0,-1.5,-1.8,-0.4,-0.7,-0.8,0.3,-0.2,0.4,0.1,-0.2];
var GFb=[0.1,-0.3,0.3,1.1,1.7,1.2,-0.3,0.7,1.4,0.4,-1.6,0.6,1.4,1.8,0.5,0.7,0.3,-1.2,0.9,0.4,0.6,-2.0,-0.9,0.0,0.6,0.6,-0.3,-1.1,-1.8,-0.8,-0.4,-0.2,0.1,-1.1,-1.4,0.2];
var NUb=[1.8,1.5,-0.3,-0.8,1.0,0.8,-0.2,1.4,1.2,-0.7,-0.5,-1.5,0.6,0.2,0.6,0.3,0.0,-0.4,0.2,0.3,-2.2,-0.6,-0.6,-0.8,-0.2,-1.1,1.5,0.1,0.7,-0.4,-0.8,2.0,-1.1,0.5,-1.4,-0.9];
var SNb=[0.3,1.4,-0.8,0.7,0.7,-1.5,0.3,0.8,1.8,1.2,-0.7,-0.7,0.2,2.0,0.2,-0.5,0.3,-0.2,0.7,1.2,-0.7,-1.2,-0.3,-0.3,0.5,0.3,-0.5,-1.6,1.0,-1.4,-0.5,1.8,-1.5,-0.4,-0.9,-0.6];
var A00=[0.2,0.3,1.4,-0.2,0.5,0.3,-0.7,-0.6,1.4,-1.1,0.3,-0.6,-1.2,1.7,1.1,0.6,1.3,0.6,0.1,1.3,0.1,-0.9,-1.0,-0.7,-0.9,-1.3,-0.4,-0.2,-1.0,-1.6,-1.6,-0.4,-1.3,1.8,-0.2,1.6];
var A01=[0.4,1.1,0.7,-0.5,1.6,-0.2,-1.0,-1.9,0.7,-1.0,-0.6,-0.4,0.0,1.2,2.3,1.8,0.7,0.2,0.3,0.8,-0.7,0.2,-0.5,-1.1,-0.7,0.3,-0.5,-0.3,0.2,0.2,-0.2,1.6,-1.9,-1.0,-0.5,-1.2];
var A02=[1.3,1.2,-0.6,0.7,0.7,-0.1,-0.2,-1.5,2.0,0.2,-1.5,-1.0,0.4,0.5,0.6,-0.1,-0.1,-1.1,-1.1,1.0,-0.8,-0.5,0.1,-2.1,0.4,0.8,-1.0,0.7,0.4,-0.6,-1.5,1.0,1.0,0.8,-1.1,0.9];
var P=[
[3,-3,E],[3,-3,E],[3,-3,E],[3,-3,E],[3,-3,E],[3,-3,E],[3,-3,E],
[3,-3,E],[3,-3,E],[3,-3,E],[3,-3,E],[3,-3,BCCa],[3,-3,BESa],[3,-2,CANa],
[2,-3,DHRa],[3,-3,DLR],[4,-2,E3a],[3,-3,EC3a],[2,-3,ECVa],[4,-2,IPa],[3,-3,MRa],
[2,-2,NASa],[3,-3,CE2a],[3,-3,CFVa],[3,-2,WAa],[2,-2,WFVa],[2,-3,NORa],[3,-2,GFa],
[2,-3,NUa],[3,-3,SNa],[3,-3,H00],[2,-2,H01],[3,-3,H02],[3,-3,H03],[2,-2,H04],
[2,-3,BCCb],[3,-3,BESb],[3,-2,CANb],[2,-2,CMCC],[3,-2,DHRb],[3,-3,E3b],[2,-3,EC3b],
[3,-3,ECVb],[2,-3,IPb],[3,-3,MRb],[3,-2,NASb],[3,-3,CE2b],[3,-2,CFVb],[2,-3,WAb],
[3,-2,WFVb],[2,-2,NORb],[2,-3,GFb],[3,-3,NUb],[3,-2,SNb],[2,-2,A00],[3,-3,A01],
[2,-3,A02]];
var W=277,H=45.5,K=W/37;
var gs=document.querySelectorAll('g.pn');
for(var i=0;i<gs.length&&i<P.length;i++){
 var a=P[i][0],b=P[i][1],d=P[i][2],s=H/(a-b),z=a*s,zs=z.toFixed(2);
 var pts='';
 for(var j=0;j<d.length;j++){pts+='L'+((j+0.5)*K).toFixed(2)+','+((a-d[j])*s).toFixed(2);}
 var area='M'+(0.5*K).toFixed(2)+','+zs+pts+'L'+((d.length-0.5)*K).toFixed(2)+','+zs+'Z';
 var t='';
 for(var yr=1980;yr<=2015.01;yr+=2.5){var x=((yr-1978.5)*K).toFixed(2),L=(yr%10===0)?5:2.5;t+='M'+x+',0v-'+L+'M'+x+','+H+'v'+L;}
 var n=Math.round((a-b)*4);
 for(var k=0;k<=n;k++){var v=b+k*0.25,y=((a-v)*s).toFixed(2),L2=(k%4===0)?5:2.5;t+='M0,'+y+'h-'+L2+'M'+W+','+y+'h'+L2;}
 var h='<clipPath id="ca'+i+'"><rect x="0" y="0" width="'+W+'" height="'+zs+'"/></clipPath>'+
 '<clipPath id="cb'+i+'"><rect x="0" y="'+zs+'" width="'+W+'" height="'+(H-z).toFixed(2)+'"/></clipPath>'+
 '<line x1="0" x2="'+W+'" y1="'+zs+'" y2="'+zs+'" stroke="#aaaaaa" stroke-width="1.6"/>'+
 '<path d="'+area+'" fill="#ff8a00" clip-path="url(#ca'+i+')"/>'+
 '<path d="'+area+'" fill="#2b47ef" clip-path="url(#cb'+i+')"/>'+
 '<rect x="0" y="0" width="'+W+'" height="'+H+'" fill="none" stroke="#000" stroke-width="1.5"/>'+
 '<path d="'+t+'" stroke="#000" stroke-width="1" fill="none"/>';
 gs[i].insertAdjacentHTML('beforeend',h);
}
})();
</script>
</body></html>
